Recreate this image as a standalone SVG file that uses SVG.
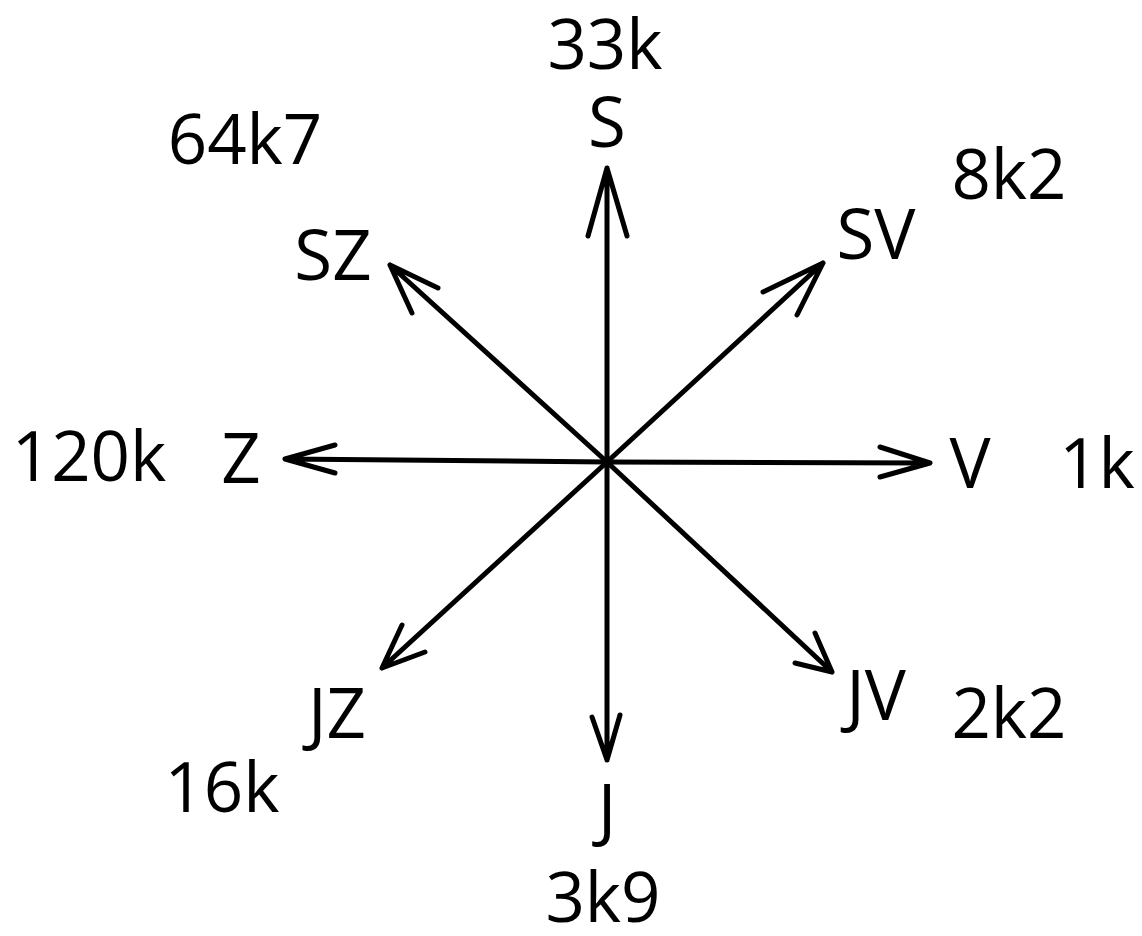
<svg xmlns="http://www.w3.org/2000/svg" width="1142" height="936" viewBox="0 0 1142 936">
<style>
.t{font-family:"Open Sans","Liberation Sans",sans-serif;font-size:69px;fill:#000;text-anchor:middle}
.a{stroke:#000;stroke-width:5;fill:none;stroke-linecap:round;stroke-linejoin:round}
</style>
<rect width="1142" height="936" fill="#fff"/>
<g id="connectors" class="a">
<path d="M607 462 L607 168 M588 236 L607 168 L627 236"/>
<path d="M607 462 L823 263 M763 292 L823 263 L797 315"/>
<path d="M607 462 L930 463 M880 447 L930 463 L880 477"/>
<path d="M607 462 L832 672 M815 633 L832 672 L795 663"/>
<path d="M607 462 L607 760 M592 717 L607 760 L620 715"/>
<path d="M607 462 L382 668 M402 625 L382 668 L425 652"/>
<path d="M607 462 L285 459 M335 445 L285 459 L335 473"/>
<path d="M607 462 L390 265 M438 288 L390 265 L412 313"/>
</g>
<g id="node-S"><text class="t" x="607" y="147">S</text><text class="t" x="605" y="69">33k</text></g>
<g id="node-SZ"><text class="t" x="333" y="280">SZ</text><text class="t" x="245" y="164">64k7</text></g>
<g id="node-SV"><text class="t" x="876" y="259">SV</text><text class="t" x="1009" y="199">8k2</text></g>
<g id="node-Z"><text class="t" x="241" y="483">Z</text><text class="t" x="89" y="481">120k</text></g>
<g id="node-V"><text class="t" x="970" y="488">V</text><text class="t" x="1097" y="488">1k</text></g>
<g id="node-JZ"><text class="t" x="337" y="738">JZ</text><text class="t" x="222" y="812">16k</text></g>
<g id="node-JV"><text class="t" x="876" y="720">JV</text><text class="t" x="1009" y="738">2k2</text></g>
<g id="node-J"><text class="t" x="607" y="834">J</text><text class="t" x="603" y="922">3k9</text></g>
</svg>
